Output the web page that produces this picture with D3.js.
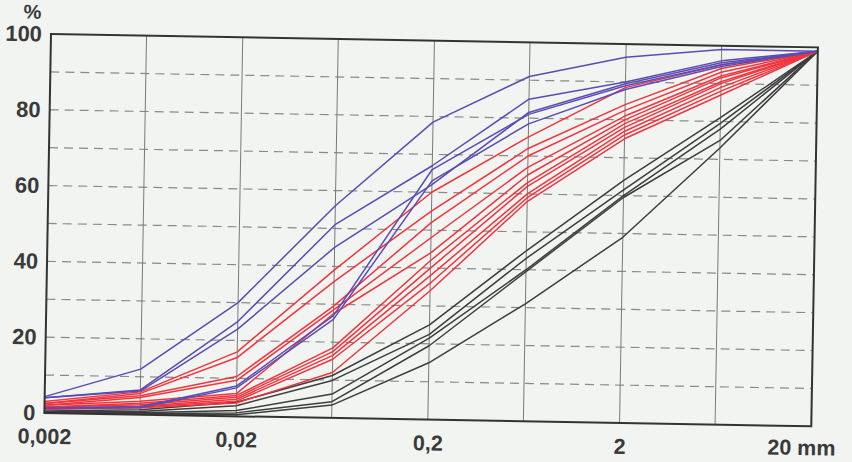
<!DOCTYPE html>
<html>
<head>
<meta charset="utf-8">
<script src="https://cdn.jsdelivr.net/npm/d3@7"></script>
<style>
  html, body { margin: 0; padding: 0; background: #f1f4f0; }
  svg { display: block; }
</style>
</head>
<body>
<svg id="chart" width="852" height="462"></svg>
<script>
// ---------- data ----------
const sieveSizes = [0.002, 0.0063, 0.02, 0.063, 0.2, 0.63, 2, 6.3, 20];
const xTickValues = [0.002, 0.02, 0.2, 2, 20];
const xTickLabels = ["0,002", "0,02", "0,2", "2", "20 mm"];
const yTickValues = [0, 20, 40, 60, 80, 100];
const yDashValues = [10, 20, 30, 40, 50, 60, 70, 80, 90];

const blueSeries = [
  [4.3, 12, 30, 56, 78.5, 91, 96.5, 99, 99],
  [4.0, 6.5, 25, 51, 67, 85, 90, 96, 99],
  [4.0, 6.2, 23, 45, 62, 81.5, 89.5, 95.5, 99],
  [1.4, 2.1, 8, 27, 66, 81, 89, 95, 99],
  [1.2, 1.8, 7.5, 26, 63, 78.5, 88, 94.5, 99]
];
const redSeries = [
  [3.0, 6.0, 17, 39, 60, 75, 88.5, 95, 99],
  [2.5, 5.6, 15.5, 36, 55, 72, 84, 94, 99],
  [2.5, 5.0, 10.5, 29.5, 52, 70, 82.5, 93, 99],
  [2.0, 4.5, 9.5, 28.5, 48, 67, 81, 92, 99],
  [2.0, 3.5, 6, 27.5, 44, 65, 80, 91.5, 99],
  [1.6, 3.0, 5.5, 18.5, 42, 63, 79, 90.5, 99],
  [1.5, 2.6, 5, 17.5, 40, 62, 78, 90, 99],
  [1.2, 2.2, 4.5, 16.5, 38, 60, 77, 89, 99],
  [1.0, 2.0, 4, 15.5, 36, 59, 76, 88, 99],
  [1.0, 1.8, 3.5, 12, 34, 58, 75, 87, 99]
];
const blackSeries = [
  [0.5, 1.3, 3.7, 11.2, 25, 45, 64, 81, 99],
  [0.3, 0.8, 2.8, 9.9, 22.5, 43, 61.5, 79.5, 99],
  [0.2, 0.5, 1.5, 6.3, 21.5, 40, 60, 78, 99],
  [0.0, 0.3, 0.9, 4.3, 19.5, 39.5, 59.5, 75, 99],
  [0.0, 0.2, 0.4, 3.4, 15, 31, 49, 73, 99]
];

// ---------- layout ----------
const W = 767, H = 379;
const svg = d3.select("#chart");
const g = svg.append("g").attr("transform", "translate(51,34) rotate(1.0)");

const x = d3.scaleLog().domain([0.002, 20]).range([0, W]);
const y = d3.scaleLinear().domain([0, 100]).range([H, 0]);

const textColor = "#3a3a3a";
const font = "'Liberation Sans', Arial, Helvetica, sans-serif";

// dashed horizontal grid
g.append("g").selectAll("line").data(yDashValues).join("line")
  .attr("x1", 0).attr("x2", W)
  .attr("y1", d => y(d)).attr("y2", d => y(d))
  .attr("stroke", "#8a8a8a").attr("stroke-width", 1.2)
  .attr("stroke-dasharray", "9,6");

// vertical grid
g.append("g").selectAll("line").data(sieveSizes.slice(1, -1)).join("line")
  .attr("x1", d => x(d)).attr("x2", d => x(d))
  .attr("y1", 0).attr("y2", H)
  .attr("stroke", "#7a7a7a").attr("stroke-width", 1);

// curves
const line = d3.line().x((d, i) => x(sieveSizes[i])).y(d => y(d));
function drawSet(data, color) {
  g.append("g").selectAll("path").data(data).join("path")
    .attr("d", line)
    .attr("fill", "none")
    .attr("stroke", color)
    .attr("stroke-width", 1.5)
    .attr("stroke-linejoin", "round");
}
drawSet(blackSeries, "#3d3d3d");
drawSet(redSeries, "#f0353f");
drawSet(blueSeries, "#5a4cb3");

// frame
g.append("rect").attr("x", 0).attr("y", 0).attr("width", W).attr("height", H)
  .attr("fill", "none").attr("stroke", "#333").attr("stroke-width", 2);

// axes
const yAxis = d3.axisLeft(y).tickValues(yTickValues).tickSize(0).tickPadding(9)
  .tickFormat(d3.format("d"));
const ya = g.append("g").call(yAxis);
ya.select(".domain").remove();
ya.selectAll("text").attr("font-size", 22).attr("font-weight", "bold")
  .attr("font-family", font).attr("fill", textColor);

const xAxis = d3.axisBottom(x).tickValues(xTickValues).tickSize(0).tickPadding(15.5)
  .tickFormat((d, i) => xTickLabels[i]);
const xa = g.append("g").attr("transform", `translate(0,${H})`).call(xAxis);
xa.select(".domain").remove();
xa.selectAll("text").attr("font-size", 21.5).attr("font-weight", "bold")
  .attr("font-family", font).attr("fill", textColor)
  .attr("dx", (d, i) => i === xTickValues.length - 1 ? -10 : 0)
  .attr("dy", (d, i) => i === xTickValues.length - 1 ? "0.62em" : "0.71em");

// unit label
g.append("text").attr("x", -19).attr("y", -15).attr("text-anchor", "middle")
  .attr("font-size", 20).attr("font-weight", "bold").attr("font-family", font)
  .attr("fill", textColor).text("%");
</script>
</body>
</html>
